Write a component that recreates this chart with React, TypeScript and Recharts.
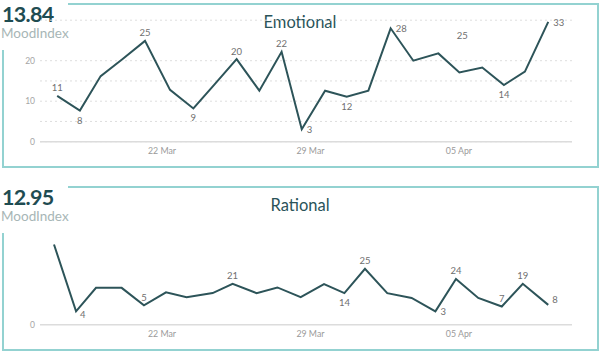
import React from 'react';
import { LineChart, Line, XAxis, YAxis, CartesianGrid } from 'recharts';

// x positions are days since 17 Mar
const emoDays = [0.06, 1.13, 2.11, 3.16, 4.2, 5.38, 6.48, 7.5, 8.52, 9.59, 10.64, 11.59, 12.69, 13.71, 14.73, 15.78, 16.85, 18.03, 19.02, 20.1, 21.12, 22.11, 23.21];
const emoValues = [11.3, 7.7, 16.2, 20.5, 24.9, 12.8, 8.2, 14.3, 20.4, 12.6, 22.2, 3.1, 12.6, 11.1, 12.6, 28.0, 20.0, 21.8, 17.1, 18.3, 14.0, 17.3, 29.6];
const emoLabels = ['11', '8', null, null, '25', null, '9', null, '20', null, '22', '3', null, '12', null, '28', null, null, '25', null, '14', null, '33'];
const emoLabelSide = ['top', 'bottom', '', '', 'top', '', 'bottom', '', 'top', '', 'top', 'right', '', 'bottom', '', 'right', '', '', 'topFar', '', 'bottom', '', 'right'];

const ratDays = [-0.09, 0.95, 1.89, 3.1, 4.15, 5.19, 6.16, 7.39, 8.33, 9.46, 10.44, 11.54, 12.64, 13.6, 14.57, 15.62, 16.77, 17.89, 18.86, 19.91, 21.02, 22.01, 23.21];
const ratValues = [19.8, 3.3, 9.1, 9.1, 4.8, 8.0, 6.8, 7.8, 10.1, 7.8, 9.2, 6.8, 10.0, 7.8, 13.8, 7.8, 6.6, 3.3, 11.3, 6.6, 4.5, 10.1, 4.9];
const ratLabels = [null, '4', null, null, '5', null, null, null, '21', null, null, null, null, '14', '25', null, null, '3', '24', null, '7', '19', '8'];
const ratLabelSide = ['', 'rightBelow', '', '', 'top', '', '', '', 'top', '', '', '', '', 'bottom', 'top', '', '', 'right', 'top', '', 'top', 'top', 'rightAbove'];

const dateTicks = [5, 12, 19];
const dateTickLabels = ['22 Mar', '29 Mar', '05 Apr'];

const emoYTicks = [0, 5, 10, 15, 20];
const ratYTicks = [0];

const FONT = 'Lato, "Noto Sans", sans-serif';
const LINE = '#2d5459';
const BORDER = '#93d2d1';

function makeLabel(labels: (string | null)[], sides: string[]) {
  return (props: any) => {
    const { x, y, index } = props;
    const t = labels[index];
    if (!t) return null;
    const side = sides[index];
    let tx = x, ty = y, anchor: any = 'middle';
    if (side === 'top') { ty = y - 4.5; }
    else if (side === 'bottom') { ty = y + 13; }
    else if (side === 'right') { tx = x + 5; ty = y + 4; anchor = 'start'; }
    else if (side === 'rightBelow') { tx = x + 4; ty = y + 7; anchor = 'start'; }
    else if (side === 'rightAbove') { tx = x + 4; ty = y - 2; anchor = 'start'; }
    else if (side === 'topFar') { tx = x + 3; ty = y - 33; }
    return (
      <text key={`l${index}`} x={tx} y={ty} textAnchor={anchor} fontSize={9.5} fill="#6f6f6f" fontFamily={FONT}>
        {t}
      </text>
    );
  };
}

function Panel(props: {
  top: number; score: string; title: string; days: number[]; values: number[];
  labels: (string | null)[]; sides: string[]; yTicks: number[]; grid: boolean;
}) {
  const data = props.days.map((d, i) => ({ d, v: props.values[i] }));
  return (
    <div style={{ position: 'absolute', left: 0, top: props.top, width: 600, height: 176 }}>
      {/* border pieces */}
      <div style={{ position: 'absolute', left: 68, top: 3, width: 531, height: 2, background: BORDER }} />
      <div style={{ position: 'absolute', left: 597, top: 3, width: 2, height: 165, background: BORDER }} />
      <div style={{ position: 'absolute', left: 2, top: 166, width: 597, height: 2, background: BORDER }} />
      <div style={{ position: 'absolute', left: 2, top: 50, width: 2, height: 118, background: BORDER }} />
      <div style={{ position: 'absolute', left: 2, top: 1, fontFamily: FONT, fontSize: 21.5, fontWeight: 700, letterSpacing: -0.7, color: '#1f4c52', lineHeight: 'normal', whiteSpace: 'nowrap' }}>
        {props.score}
      </div>
      <div style={{ position: 'absolute', left: 1, top: 25, fontFamily: FONT, fontSize: 13.5, color: '#a7b6b6', lineHeight: '16px' }}>
        MoodIndex
      </div>
      <div style={{ position: 'absolute', left: 0, width: 600, top: 11, textAlign: 'center', fontFamily: FONT, fontSize: 16.5, color: '#2a5359', lineHeight: '22px' }}>
        {props.title}
      </div>
      <div style={{ position: 'absolute', left: 0, top: 0 }}>
        <LineChart width={600} height={176} data={data} margin={{ top: 20.2, right: 28, bottom: 4.3, left: 0 }}>
          {props.grid && (
            <CartesianGrid vertical={false} stroke="#dedede" strokeDasharray="2 3" />
          )}
          <XAxis
            dataKey="d"
            type="number"
            domain={[-0.75, 24.33]}
            ticks={dateTicks}
            tickFormatter={(v: number) => dateTickLabels[dateTicks.indexOf(v)]}
            axisLine={{ stroke: '#dcdcdc', strokeWidth: 1.5 }}
            tickLine={false}
            tickSize={0}
            tickMargin={6}
            height={30}
            tick={{ fontSize: 8.8, fill: '#9a9a9a', fontFamily: FONT }}
            allowDataOverflow
          />
          <YAxis
            type="number"
            domain={[0, 30]}
            ticks={props.yTicks}
            tickFormatter={(v: number) => (v % 10 === 0 ? String(v) : '')}
            axisLine={false}
            tickLine={false}
            tickSize={0}
            tickMargin={5}
            width={40}
            tick={{ fontSize: 8.5, fill: '#a5a5a5', fontFamily: FONT }}
          />
          <Line
            dataKey="v"
            type="linear"
            stroke={LINE}
            strokeWidth={2}
            dot={false}
            activeDot={false}
            isAnimationActive={false}
            label={makeLabel(props.labels, props.sides)}
          />
        </LineChart>
      </div>
    </div>
  );
}

export default function App() {
  return (
    <div style={{ position: 'absolute', left: 0, top: 0, width: 600, height: 352, background: '#fff', overflow: 'hidden' }}>
      <Panel top={0} score="13.84" title="Emotional" days={emoDays} values={emoValues} labels={emoLabels} sides={emoLabelSide} yTicks={emoYTicks} grid={true} />
      <Panel top={183} score="12.95" title="Rational" days={ratDays} values={ratValues} labels={ratLabels} sides={ratLabelSide} yTicks={ratYTicks} grid={false} />
    </div>
  );
}
